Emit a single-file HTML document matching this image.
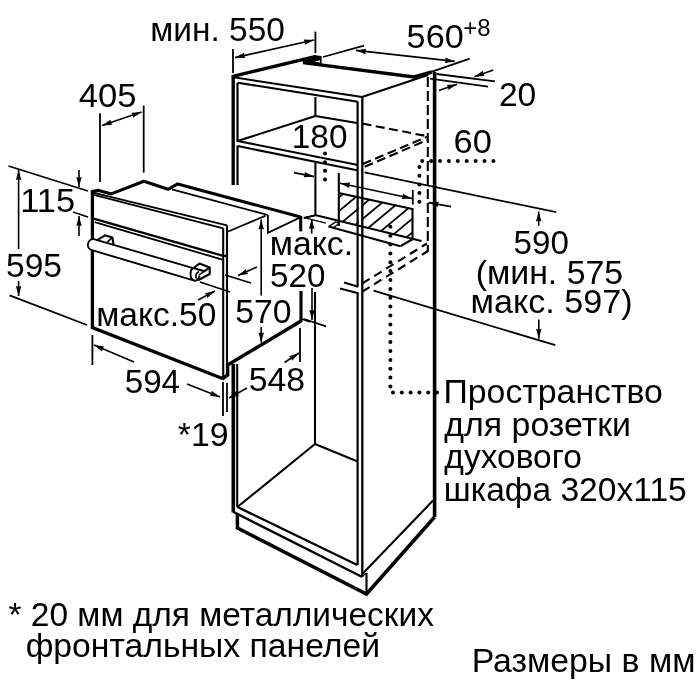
<!DOCTYPE html>
<html><head><meta charset="utf-8"><title>diagram</title>
<style>
html,body{margin:0;padding:0;background:#fff;}
svg{display:block;will-change:transform;}
svg path,svg ellipse{fill:none;stroke:#000;}
svg .h{fill:#000;stroke:none;}
svg path.w{fill:#fff;}
svg text{font-family:"Liberation Sans",sans-serif;fill:#000;stroke:none;}
</style></head><body>
<svg width="700" height="700" viewBox="0 0 700 700">
<rect width="700" height="700" fill="#fff" stroke="none"/>
<g clip-path="url(#hc)"><path d="M260.5,249.0 L350.5,174.0" stroke-width="1.8"/><path d="M277.0,249.0 L367.0,174.0" stroke-width="1.8"/><path d="M293.5,249.0 L383.5,174.0" stroke-width="1.8"/><path d="M310.0,249.0 L400.0,174.0" stroke-width="1.8"/><path d="M326.5,249.0 L416.5,174.0" stroke-width="1.8"/><path d="M343.0,249.0 L433.0,174.0" stroke-width="1.8"/><path d="M359.5,249.0 L449.5,174.0" stroke-width="1.8"/><path d="M376.0,249.0 L466.0,174.0" stroke-width="1.8"/><path d="M392.5,249.0 L482.5,174.0" stroke-width="1.8"/><path d="M409.0,249.0 L499.0,174.0" stroke-width="1.8"/><path d="M425.5,249.0 L515.5,174.0" stroke-width="1.8"/></g><rect x="358.7" y="190" width="2.5" height="50" style="fill:#fff;stroke:none"/>
<clipPath id="hc"><path d="M338.8,193 L412.4,209 L412.4,238.8 L338.8,220.8Z"/></clipPath>
<path d="M233.2,76.0 L233.2,185.0" stroke-width="3.4"/>
<path d="M237.5,82.7 L237.5,141.8" stroke-width="2.2"/>
<path d="M237.5,145.6 L237.5,185.0" stroke-width="2.2"/>
<path d="M233.3,364.0 L233.3,512.5" stroke-width="3.6"/>
<path d="M237.2,364.0 L237.2,507.0" stroke-width="2.1"/>
<path d="M231.8,76.6 L316.0,56.4" stroke-width="3.3"/>
<path d="M232.0,77.1 L362.0,97.0" stroke-width="2.0"/>
<path d="M237.7,82.7 L357.8,101.7" stroke-width="2.1"/>
<path d="M357.6,101.7 L357.6,286.5" stroke-width="2.2"/>
<path d="M357.6,292.5 L357.6,565.0" stroke-width="2.2"/>
<path d="M362.3,97.0 L362.3,577.0" stroke-width="2.3"/>
<path d="M362.0,97.0 L428.0,75.0" stroke-width="2.1"/>
<path d="M303.0,62.6 L414.0,77.0 L432.0,72.0" stroke-width="3.4"/>
<path d="M303.0,62.6 L315.0,57.3" stroke-width="3.0"/>
<path class="h" d="M303,62.6 L315.5,55.3 L321.6,56 L321.6,64.5 Z"/>
<path d="M314.5,61.8 L320,60.3 L320,62.6 Z" style="fill:#fff;stroke:none"/>
<path d="M434.6,72.0 L434.6,517.0" stroke-width="3.6"/>
<path d="M427.8,77.0 L427.8,252.0" stroke-width="2.1" stroke-dasharray="10 4"/>
<path d="M237.6,141.0 L315.4,116.0" stroke-width="2.1"/>
<path d="M315.4,97.0 L315.4,116.0" stroke-width="2.1"/>
<path d="M315.4,116.0 L357.0,123.0" stroke-width="2.1"/>
<path d="M237.6,141.0 L358.0,165.0" stroke-width="2.1"/>
<path d="M237.6,146.0 L357.0,170.2" stroke-width="2.1"/>
<path d="M362.5,123.6 L428.3,136.4" stroke-width="2.1" stroke-dasharray="9 4.5"/>
<path d="M362.7,164.0 L428.3,136.4" stroke-width="2.1" stroke-dasharray="9 4.5"/>
<path d="M364.6,166.8 L428.3,139.6" stroke-width="2.1" stroke-dasharray="9 4.5"/>
<path d="M315.4,163.0 L315.4,215.0" stroke-width="2.1"/>
<path d="M315.0,215.0 L421.5,241.0" stroke-width="2.1"/>
<path d="M315.4,215.0 L304.0,217.8" stroke-width="1.3"/>
<path d="M304.0,217.6 L326.0,223.1" stroke-width="1.2"/>
<path d="M328.6,226.6 L400.5,246.2" stroke-width="2.1"/>
<path d="M400.5,246.2 L413.0,239.0" stroke-width="2.1"/>
<path d="M328.6,226.6 L335.7,222.0 L339.0,223.0" stroke-width="1.3"/>
<path d="M333.0,228.0 L339.0,223.5" stroke-width="1.3"/>
<path d="M338.8,173.0 L338.8,226.0" stroke-width="2.1"/>
<path d="M338.8,193.0 L412.4,209.0" stroke-width="2.1"/>
<path d="M412.5,208.0 L412.5,239.5" stroke-width="2.1"/>
<path d="M412.8,190.0 L412.8,204.5" stroke-width="1.8"/>
<path d="M362.3,283.4 L427.0,243.5" stroke-width="2.1" stroke-dasharray="8.6 5.4"/>
<path d="M362.3,291.6 L428.0,251.0" stroke-width="2.1" stroke-dasharray="8.6 5.4"/>
<path d="M344.0,282.4 L358.3,286.7" stroke-width="2.1"/>
<path d="M340.0,288.6 L358.3,293.3" stroke-width="2.1"/>
<path d="M315.0,292.0 L315.0,444.0" stroke-width="2.1"/>
<path d="M237.4,507.0 L315.0,444.0" stroke-width="2.1"/>
<path d="M315.0,444.0 L357.0,461.2" stroke-width="2.1"/>
<path d="M237.4,507.0 L357.3,565.0" stroke-width="2.4"/>
<path d="M233.5,512.0 L362.3,577.0" stroke-width="2.4"/>
<path d="M237.4,513.0 L237.4,528.0 L366.5,594.0 L434.6,517.0" stroke-width="3.5"/>
<path d="M366.5,573.0 L366.5,594.0" stroke-width="2.1"/>
<path d="M362.3,576.5 L366.5,573.0" stroke-width="1.3"/>
<path d="M362.3,574.0 L433.0,500.6" stroke-width="2.1"/>
<path d="M92.4,190.5 L92.4,327.6 L222.5,378.5" stroke-width="3.3"/>
<path d="M222.0,379.0 L227.6,375.0 L227.6,365.0 L301.0,321.0" stroke-width="3.5"/>
<path d="M301.0,291.0 L301.0,322.0" stroke-width="3.1"/>
<path d="M223.2,228.1 L223.2,379.0" stroke-width="2.1"/>
<path d="M227.0,225.3 L227.0,366.0" stroke-width="2.1"/>
<path d="M93.0,192.6 L227.0,225.3" stroke-width="1.8"/>
<path d="M94.0,194.8 L223.2,228.3" stroke-width="1.8"/>
<path d="M91.5,191.6 L98.7,190.4 L111.3,193.9 L143.9,181.3 L168.0,189.3 L177.7,183.9 L300.7,217.1" stroke-width="3.1" stroke-linejoin="round"/>
<path d="M300.7,216.0 L300.7,231.4" stroke-width="3.1"/>
<path d="M172.0,189.3 L267.9,215.0" stroke-width="1.8"/>
<path d="M267.9,215.0 L267.9,232.9 L299.3,217.9" stroke-width="1.8"/>
<path d="M227.0,232.0 L265.7,215.7" stroke-width="1.8"/>
<path d="M303.6,217.9 L315.0,215.7" stroke-width="1.8"/>
<path d="M91.9,218.1 L222.3,255.6 L227.0,256.2" stroke-width="2.3"/>
<path d="M94.7,222.1 L222.3,259.6" stroke-width="1.8"/>
<path class="w" d="M94.7,239.3 L193.1,268.1 C189.5,270 189.5,279.5 194.3,280.7 L91.9,250.1 C85.5,248.5 87,238 94.7,239.3Z" stroke-width="1.9" stroke-linejoin="round"/>
<path d="M194.3,280.7 C197,281 199,278.5 199.5,275.5" stroke-width="1.9"/>
<path d="M199,271.5 C196,273 195,276 196.5,278.5" stroke-width="1.6"/>
<path d="M97.6,239.8 L105.0,235.3 L112.4,237.6 L113.6,244.6" stroke-width="2.1"/>
<path d="M112.4,237.6 L107.3,241.8" stroke-width="1.5"/>
<path d="M193.5,268.0 L199.4,263.6 L209.7,267.4 L204.5,271.2 L193.5,268.0" stroke-width="2.1" stroke-linejoin="round"/>
<path d="M209.7,267.4 L209.7,274.0 L198.0,280.2" stroke-width="2.1" stroke-linejoin="round"/>
<path d="M204.5,271.2 L199.0,275.0" stroke-width="1.5"/>
<path d="M233.0,49.0 L233.0,73.0" stroke-width="1.8"/>
<path d="M315.4,31.6 L315.4,53.0" stroke-width="1.8"/>
<path d="M235.0,57.6 L314.0,40.0" stroke-width="1.6"/>
<path class="h" d="M314.0,40.0 L304.8,44.8 L304.9,42.0 L303.7,39.5Z"/>
<path class="h" d="M235.0,57.6 L244.2,52.8 L244.1,55.6 L245.3,58.1Z"/>
<path d="M323.0,57.0 L364.0,45.6" stroke-width="1.8"/>
<path d="M432.0,71.7 L469.7,58.7" stroke-width="1.8"/>
<path d="M356.0,50.4 L454.9,61.4" stroke-width="1.6"/>
<path class="h" d="M454.9,61.4 L444.7,63.0 L445.7,60.4 L445.3,57.6Z"/>
<path class="h" d="M356.0,50.4 L366.2,48.8 L365.2,51.4 L365.6,54.2Z"/>
<path d="M436.6,74.0 L494.9,81.3" stroke-width="1.8"/>
<path d="M430.0,78.7 L488.0,86.6" stroke-width="1.8"/>
<path d="M493.3,69.9 L474.3,76.7" stroke-width="1.6"/>
<path class="h" d="M474.3,76.7 L482.8,70.8 L483.1,73.6 L484.6,75.9Z"/>
<path d="M438.9,90.5 L457.0,84.3" stroke-width="1.6"/>
<path class="h" d="M457.0,84.3 L448.4,90.1 L448.2,87.3 L446.7,85.0Z"/>
<path d="M100.0,113.3 L100.0,182.0" stroke-width="1.8"/>
<path d="M143.7,105.6 L143.7,172.6" stroke-width="1.8"/>
<path d="M102.0,125.5 L141.6,112.0" stroke-width="1.6"/>
<path class="h" d="M141.6,112.0 L133.0,117.8 L132.8,115.0 L131.3,112.7Z"/>
<path class="h" d="M102.0,125.5 L110.6,119.7 L110.8,122.5 L112.3,124.8Z"/>
<path d="M8.5,166.0 L88.0,191.0" stroke-width="1.8"/>
<path d="M73.0,212.0 L88.0,217.0" stroke-width="1.8"/>
<path d="M79.0,170.0 L79.0,187.0" stroke-width="1.6"/>
<path class="h" d="M79.0,187.0 L76.3,177.0 L79.0,177.7 L81.7,177.0Z"/>
<path d="M79.0,236.0 L79.0,216.0" stroke-width="1.6"/>
<path class="h" d="M79.0,216.0 L81.7,226.0 L79.0,225.3 L76.3,226.0Z"/>
<path d="M18.6,249.0 L18.6,170.0" stroke-width="1.6"/>
<path class="h" d="M18.6,170.0 L21.3,180.0 L18.6,179.3 L15.9,180.0Z"/>
<path d="M18.6,281.0 L18.6,296.0" stroke-width="1.6"/>
<path class="h" d="M18.6,296.0 L15.9,286.0 L18.6,286.7 L21.3,286.0Z"/>
<path d="M9.6,295.4 L87.0,325.0" stroke-width="1.8"/>
<path d="M92.4,335.0 L92.4,365.0" stroke-width="1.8"/>
<path d="M134.0,362.0 L94.0,345.0" stroke-width="1.6"/>
<path class="h" d="M94.0,345.0 L104.3,346.4 L102.6,348.6 L102.1,351.4Z"/>
<path d="M187.0,384.0 L220.0,397.0" stroke-width="1.6"/>
<path class="h" d="M220.0,397.0 L209.7,395.8 L211.3,393.6 L211.7,390.8Z"/>
<path d="M223.0,382.0 L223.0,416.0" stroke-width="1.8"/>
<path d="M227.0,383.0 L227.0,412.0" stroke-width="1.8"/>
<path d="M247.0,388.0 L229.0,398.0" stroke-width="1.6"/>
<path class="h" d="M229.0,398.0 L236.4,390.8 L237.1,393.5 L239.1,395.5Z"/>
<path d="M300.0,328.0 L300.0,362.0" stroke-width="1.8"/>
<path d="M284.5,362.5 L299.0,353.0" stroke-width="1.6"/>
<path class="h" d="M299.0,353.0 L292.1,360.7 L291.2,358.1 L289.2,356.2Z"/>
<path d="M261.2,295.5 L261.2,219.5" stroke-width="1.6"/>
<path class="h" d="M261.2,219.5 L263.9,229.5 L261.2,228.8 L258.5,229.5Z"/>
<path d="M261.2,327.0 L261.2,342.5" stroke-width="1.6"/>
<path class="h" d="M261.2,342.5 L258.5,332.5 L261.2,333.2 L263.9,332.5Z"/>
<path d="M257.0,267.0 L238.0,275.6" stroke-width="1.6"/>
<path class="h" d="M238.0,275.6 L246.0,269.0 L246.5,271.8 L248.2,273.9Z"/>
<path d="M225.0,275.0 L251.0,283.0" stroke-width="1.8"/>
<path d="M200.0,282.0 L230.0,292.0" stroke-width="1.8"/>
<path d="M198.0,300.0 L215.0,291.0" stroke-width="1.6"/>
<path class="h" d="M215.0,291.0 L207.4,298.1 L206.8,295.4 L204.9,293.3Z"/>
<path d="M311.7,233.6 L311.7,219.0" stroke-width="1.6"/>
<path class="h" d="M311.7,219.0 L314.4,229.0 L311.7,228.3 L309.0,229.0Z"/>
<path d="M312.0,288.0 L312.0,320.0" stroke-width="1.6"/>
<path class="h" d="M312.0,320.0 L309.3,310.0 L312.0,310.7 L314.7,310.0Z"/>
<path d="M304.0,319.0 L326.0,326.4" stroke-width="1.8"/>
<path d="M302.0,319.0 L310.0,322.0" stroke-width="1.8"/>
<path d="M294.0,172.6 L314.0,176.6" stroke-width="1.6"/>
<path class="h" d="M314.0,176.6 L303.7,177.3 L304.9,174.8 L304.7,172.0Z"/>
<circle class="h" cx="325.0" cy="153.6" r="2.0"/>
<circle class="h" cx="325.0" cy="162.2" r="2.0"/>
<circle class="h" cx="325.0" cy="170.8" r="2.0"/>
<circle class="h" cx="325.0" cy="179.4" r="2.0"/>
<path d="M340.0,183.2 L412.0,198.5" stroke-width="1.6"/>
<path class="h" d="M412.0,198.5 L401.7,199.1 L402.9,196.6 L402.8,193.8Z"/>
<path class="h" d="M340.0,183.2 L350.3,182.6 L349.1,185.1 L349.2,187.9Z"/>
<circle class="h" cx="422.2" cy="161.0" r="2.0"/>
<circle class="h" cx="431.1" cy="161.0" r="2.0"/>
<circle class="h" cx="440.0" cy="161.0" r="2.0"/>
<circle class="h" cx="448.9" cy="161.0" r="2.0"/>
<circle class="h" cx="457.8" cy="161.0" r="2.0"/>
<circle class="h" cx="466.7" cy="161.0" r="2.0"/>
<circle class="h" cx="475.6" cy="161.0" r="2.0"/>
<circle class="h" cx="484.5" cy="161.0" r="2.0"/>
<circle class="h" cx="493.4" cy="161.0" r="2.0"/>
<circle class="h" cx="419.4" cy="167.0" r="2.0"/>
<circle class="h" cx="419.4" cy="175.7" r="2.0"/>
<circle class="h" cx="419.4" cy="184.4" r="2.0"/>
<circle class="h" cx="419.4" cy="193.1" r="2.0"/>
<circle class="h" cx="419.4" cy="201.8" r="2.0"/>
<path d="M451.0,206.6 L428.5,202.6" stroke-width="1.6"/>
<path class="h" d="M428.5,202.6 L438.8,201.7 L437.7,204.2 L437.9,207.0Z"/>
<path d="M364.6,172.3 L556.3,212.2" stroke-width="1.8"/>
<path d="M373.6,290.7 L555.3,345.2" stroke-width="1.8"/>
<path d="M538.7,225.7 L538.7,211.5" stroke-width="1.6"/>
<path class="h" d="M538.7,211.5 L541.4,221.5 L538.7,220.8 L536.0,221.5Z"/>
<path d="M538.8,319.4 L538.8,338.8" stroke-width="1.6"/>
<path class="h" d="M538.8,338.8 L536.1,328.8 L538.8,329.5 L541.5,328.8Z"/>
<circle class="h" cx="390.4" cy="226.8" r="2.0"/>
<circle class="h" cx="390.4" cy="235.7" r="2.0"/>
<circle class="h" cx="390.4" cy="244.5" r="2.0"/>
<circle class="h" cx="390.4" cy="253.4" r="2.0"/>
<circle class="h" cx="390.4" cy="262.3" r="2.0"/>
<circle class="h" cx="390.4" cy="271.1" r="2.0"/>
<circle class="h" cx="390.4" cy="280.0" r="2.0"/>
<circle class="h" cx="390.4" cy="288.9" r="2.0"/>
<circle class="h" cx="390.4" cy="297.8" r="2.0"/>
<circle class="h" cx="390.4" cy="306.6" r="2.0"/>
<circle class="h" cx="390.4" cy="315.5" r="2.0"/>
<circle class="h" cx="390.4" cy="324.4" r="2.0"/>
<circle class="h" cx="390.4" cy="333.2" r="2.0"/>
<circle class="h" cx="390.4" cy="342.1" r="2.0"/>
<circle class="h" cx="390.4" cy="351.0" r="2.0"/>
<circle class="h" cx="390.4" cy="359.9" r="2.0"/>
<circle class="h" cx="390.4" cy="368.7" r="2.0"/>
<circle class="h" cx="390.4" cy="377.6" r="2.0"/>
<circle class="h" cx="390.4" cy="386.5" r="2.0"/>
<circle class="h" cx="393.0" cy="392.6" r="2.0"/>
<circle class="h" cx="401.8" cy="392.6" r="2.0"/>
<circle class="h" cx="410.6" cy="392.6" r="2.0"/>
<circle class="h" cx="419.4" cy="392.6" r="2.0"/>
<circle class="h" cx="428.2" cy="392.6" r="2.0"/>
<circle class="h" cx="437.0" cy="392.6" r="2.0"/>
<text x="150.26" y="41.4" font-size="34" textLength="134.67" lengthAdjust="spacingAndGlyphs">мин. 550</text>
<text x="78.83" y="107.4" font-size="34" textLength="57.77" lengthAdjust="spacingAndGlyphs">405</text>
<text x="406.63" y="47.5" font-size="34" textLength="57.06" lengthAdjust="spacingAndGlyphs">560</text>
<text x="463.30" y="35.5" font-size="23.5" textLength="27.26" lengthAdjust="spacingAndGlyphs">+8</text>
<text x="498.92" y="105.8" font-size="34" textLength="37.41" lengthAdjust="spacingAndGlyphs">20</text>
<text x="453.58" y="152.8" font-size="34" textLength="38.28" lengthAdjust="spacingAndGlyphs">60</text>
<text x="291.80" y="147.8" font-size="34" textLength="55.65" lengthAdjust="spacingAndGlyphs">180</text>
<text x="20.22" y="212.0" font-size="34" textLength="54.94" lengthAdjust="spacingAndGlyphs">115</text>
<text x="5.95" y="277.1" font-size="34" textLength="56.11" lengthAdjust="spacingAndGlyphs">595</text>
<text x="96.15" y="325.5" font-size="34" textLength="120.28" lengthAdjust="spacingAndGlyphs">макс.50</text>
<text x="269.74" y="255.0" font-size="34" textLength="83.27" lengthAdjust="spacingAndGlyphs">макс.</text>
<text x="270.07" y="286.5" font-size="34" textLength="55.48" lengthAdjust="spacingAndGlyphs">520</text>
<text x="235.15" y="322.5" font-size="34" textLength="56.32" lengthAdjust="spacingAndGlyphs">570</text>
<text x="248.65" y="391.0" font-size="34" textLength="56.32" lengthAdjust="spacingAndGlyphs">548</text>
<text x="124.67" y="393.0" font-size="34" textLength="55.44" lengthAdjust="spacingAndGlyphs">594</text>
<text x="177.82" y="446.0" font-size="34" textLength="50.75" lengthAdjust="spacingAndGlyphs">*19</text>
<text x="513.47" y="253.5" font-size="34" textLength="55.37" lengthAdjust="spacingAndGlyphs">590</text>
<text x="475.67" y="283.5" font-size="34" textLength="147.51" lengthAdjust="spacingAndGlyphs">(мин. 575</text>
<text x="470.61" y="312.5" font-size="34" textLength="161.89" lengthAdjust="spacingAndGlyphs">макс. 597)</text>
<text x="443.50" y="403.3" font-size="34" textLength="219.36" lengthAdjust="spacingAndGlyphs">Пространство</text>
<text x="444.36" y="436.3" font-size="34" textLength="186.50" lengthAdjust="spacingAndGlyphs">для розетки</text>
<text x="444.36" y="468.3" font-size="34" textLength="137.50" lengthAdjust="spacingAndGlyphs">духового</text>
<text x="443.85" y="501.0" font-size="34" textLength="242.87" lengthAdjust="spacingAndGlyphs">шкафа 320x115</text>
<text x="8.53" y="625.5" font-size="34" textLength="425.36" lengthAdjust="spacingAndGlyphs">* 20 мм для металлических</text>
<text x="25.65" y="657.4" font-size="34" textLength="354.40" lengthAdjust="spacingAndGlyphs">фронтальных панелей</text>
<text x="471.70" y="671.8" font-size="34" textLength="223.69" lengthAdjust="spacingAndGlyphs">Размеры в мм</text>
</svg>
</body></html>
